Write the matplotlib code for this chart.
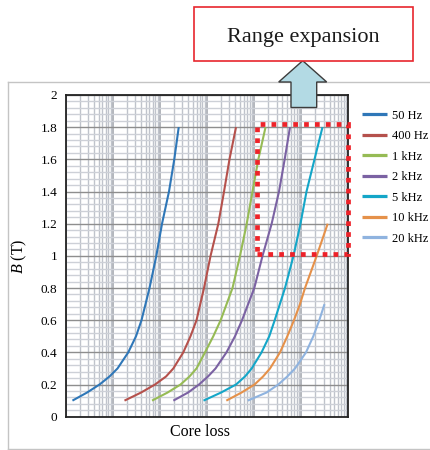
import numpy as np
import matplotlib
matplotlib.use('Agg')
import matplotlib.pyplot as plt
from matplotlib.lines import Line2D
from matplotlib.patches import Rectangle, Polygon
from matplotlib.ticker import MultipleLocator, LogLocator, NullFormatter, FuncFormatter

plt.rcParams['font.family'] = ['Liberation Serif', 'DejaVu Serif']
plt.rcParams['mathtext.fontset'] = 'custom'
plt.rcParams['mathtext.rm'] = 'Liberation Serif'
plt.rcParams['mathtext.it'] = 'Liberation Serif:italic'

# flux density (T) at which each curve was read
b_main = [0.1, 0.15, 0.2, 0.25, 0.3, 0.4, 0.5, 0.6, 0.8, 1.0, 1.2, 1.4, 1.6, 1.8]
b_10k = [0.1, 0.15, 0.2, 0.25, 0.3, 0.4, 0.5, 0.6, 0.7, 0.8, 1.0, 1.2]
b_20k = [0.1, 0.15, 0.2, 0.25, 0.3, 0.4, 0.5, 0.6, 0.7]

# core loss (arbitrary units, log axis, no tick labels)
loss_50 = [0.0139, 0.0283, 0.0522, 0.0851, 0.126, 0.213, 0.311, 0.407, 0.602, 0.839, 1.11, 1.56, 2.02, 2.51]
loss_400 = [0.177, 0.397, 0.787, 1.35, 1.93, 3.14, 4.46, 5.99, 8.64, 11.9, 17.4, 23.0, 30.0, 41.3]
loss_1k = [0.680, 1.45, 2.74, 4.25, 5.99, 9.07, 13.6, 19.5, 34.8, 50.2, 69.7, 92.5, 123, 175]
loss_2k = [1.93, 3.95, 6.76, 10.5, 15.2, 25.9, 39.3, 55.4, 101, 151, 236, 338, 446, 578]
loss_5k = [8.43, 19.8, 41.3, 64.1, 88.9, 144, 210, 274, 453, 686, 966, 1296, 1916, 2833]
loss_10k = [25.7, 54.0, 102, 155, 218, 355, 507, 703, 943, 1204, 2134, 3652]
loss_20k = [73.1, 183, 326, 507, 739, 1265, 1807, 2423, 3124]

labels = ['50 Hz', '400 Hz', '1 kHz', '2 kHz', '5 kHz', '10 kHz', '20 kHz']
colors = ['#2f77b8', '#b5514c', '#96bb55', '#7b62a3', '#14a6c8', '#e5914a', '#8fb3df']

# highlighted region
box_loss = (115, 1e4)
box_b = (1.01, 1.82)

W, H = 430, 450
fig = plt.figure(figsize=(W / 100, H / 100), dpi=100)

def fx(x): return x / W
def fy(y): return 1 - y / H

ax = fig.add_axes([fx(65.7), fy(416.7), (348.3 - 65.7) / W, (416.7 - 95) / H])

series = [(loss_50, b_main), (loss_400, b_main), (loss_1k, b_main), (loss_2k, b_main),
          (loss_5k, b_main), (loss_10k, b_10k), (loss_20k, b_20k)]
for (x, y), lab, c in zip(series, labels, colors):
    ax.plot(x, y, color=c, lw=1.5, label=lab, solid_capstyle='butt', solid_joinstyle='round')

ax.set_xscale('log')
ax.set_xlim(0.01, 1e4)
ax.set_ylim(0, 2)
ax.xaxis.set_major_locator(LogLocator(base=10, numticks=20))
ax.xaxis.set_minor_locator(LogLocator(base=10, subs=np.arange(2, 10), numticks=20))
ax.xaxis.set_major_formatter(NullFormatter())
ax.xaxis.set_minor_formatter(NullFormatter())
ax.yaxis.set_major_locator(MultipleLocator(0.2))
ax.yaxis.set_minor_locator(MultipleLocator(0.04))
ax.yaxis.set_major_formatter(FuncFormatter(lambda v, p: f'{v:g}'))
ax.tick_params(which='both', length=0)
ax.tick_params(axis='y', labelsize=9.5, pad=6)

ax.set_axisbelow(True)
ax.grid(which='major', axis='y', color='#8e8e8e', lw=1.0)
ax.grid(which='minor', axis='y', color='#cdd0d7', lw=1.0)
ax.grid(which='major', axis='x', color='#9ea2aa', lw=1.1)
ax.grid(which='minor', axis='x', color='#bfc3cb', lw=1.0)
for s in ax.spines.values():
    s.set_linewidth(1.3)
    s.set_color('#222222')

ax.set_ylabel('$B$ (T)', fontsize=11.5)
ax.yaxis.set_label_coords((29 - 65.7) / 282.6, 0.5)
ax.set_xlabel('Core loss', fontsize=11.5, va='center')
ax.xaxis.set_label_coords((200 - 65.7) / 282.6, (416.7 - 432) / 321.7)

leg = ax.legend(loc='upper left', bbox_to_anchor=(fx(361.5), fy(109.5)),
                bbox_transform=fig.transFigure, frameon=False, fontsize=9,
                handlelength=2.0, handletextpad=0.4, labelspacing=0.68,
                borderpad=0, borderaxespad=0)
for ln in leg.get_lines():
    ln.set_linewidth(2.3)

# red dotted highlight box
ax.add_patch(Rectangle((box_loss[0], box_b[0]), box_loss[1] - box_loss[0], box_b[1] - box_b[0],
                       fill=False, edgecolor='#ee2229', lw=3.4, linestyle=(0, (1.0, 1.3)),
                       clip_on=False, zorder=5))

# outer frame
frame_kw = dict(color='#c4c4c4', lw=1.0, transform=fig.transFigure, zorder=0.5)
fig.add_artist(Line2D([fx(8), 1], [fy(82), fy(82)], **frame_kw))
fig.add_artist(Line2D([fx(8), fx(8)], [fy(82), fy(449)], **frame_kw))
fig.add_artist(Line2D([fx(8), 1], [fy(449), fy(449)], **frame_kw))

# arrow
arrow_px = [(302.7, 60.7), (326.7, 82), (316.7, 82), (316.7, 107.5),
            (291, 107.5), (291, 82), (278.7, 82)]
fig.add_artist(Polygon([(fx(a), fy(b)) for a, b in arrow_px], closed=True,
                       facecolor='#b3dae4', edgecolor='#3c3c3c', lw=1.0,
                       transform=fig.transFigure, zorder=6))

# caption box
fig.add_artist(Rectangle((fx(194), fy(60.7)), (412.7 - 194) / W, (60.7 - 6.7) / H,
                         fill=True, facecolor='white', edgecolor='#e8262e', lw=1.2,
                         transform=fig.transFigure, zorder=6))
fig.text(fx(303.3), fy(41.7), 'Range expansion', fontsize=16, ha='center', va='baseline',
         color='#1a1a1a', zorder=7)

fig.savefig('out.png', dpi=100)
